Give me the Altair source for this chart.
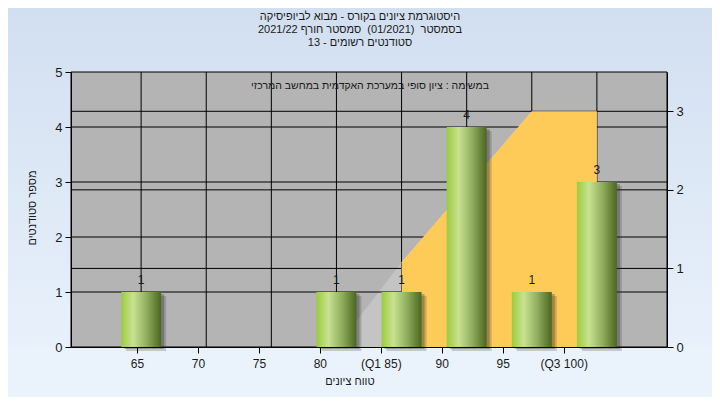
import json
import altair as alt
import pandas as pd

# ---------------- data ----------------
categories = ["65", "70", "75", "80", "(Q1 85)", "90", "95", "(Q3 100)"]
counts = [1, 0, 0, 1, 1, 4, 1, 3]

trend_categories = ["80", "(Q1 85)", "90", "95", "(Q3 100)"]
trend_values = [0.0, 1.08, 2.04, 3.0, 3.0]
quartile_categories = ["(Q1 85)", "90", "95", "(Q3 100)"]
quartile_values = [1.08, 2.04, 3.0, 3.0]

left_ticks = [0, 1, 2, 3, 4, 5]
right_ticks = [0, 1, 2, 3]

NB = "\u00a0"
title_lines = [
    "היסטוגרמת ציונים בקורס - מבוא לביופיסיקה",
    f"בסמסטר {NB}(01/2021){NB} סמסטר חורף 2021/22",
    "סטודנטים רשומים - 13",
]
note_text = "במשימה : ציון סופי במערכת האקדמית במחשב המרכזי"
x_title = "טווח ציונים"
y_title = "מספר סטודנטים"

# ---------------- layout ----------------
W, H = 596, 275
PAD = {"left": 63, "top": 64, "right": 45, "bottom": 50}
FONT = "Liberation Sans"
TXT = "#1a1a1a"
LABEL_STEP = 62 / 66.22  # axis labels are spaced slightly tighter than the bars

pos = {c: i + 1 for i, c in enumerate(categories)}
bars_df = pd.DataFrame({"cat": categories, "pos": [pos[c] for c in categories], "count": counts})
bars_nz = bars_df[bars_df["count"] > 0]
trend_df = pd.DataFrame({"pos": [pos[c] for c in trend_categories], "v": trend_values})
quart_df = pd.DataFrame({"pos": [pos[c] for c in quartile_categories], "v": quartile_values})
lgrid_df = pd.DataFrame({"v": left_ticks[1:-1]})
rgrid_df = pd.DataFrame({"v": right_ticks[1:]})
vgrid_df = pd.DataFrame({"pos": list(pos.values())})
one = pd.DataFrame({"a": [0]})

x_scale = alt.Scale(domain=[0, len(categories) + 1], nice=False, zero=False)
yl_scale = alt.Scale(domain=[left_ticks[0], left_ticks[-1]], nice=False)
yr_scale = alt.Scale(domain=[0, 3.5], nice=False)

tick_vals = [round(LABEL_STEP * (i + 1), 4) for i in range(len(categories))]
label_expr = f"{json.dumps(categories)}[round(datum.value / {LABEL_STEP:.4f}) - 1]"

x_axis = alt.Axis(values=tick_vals, labelExpr=label_expr, grid=False, title=None, orient="bottom",
                  domainColor="black", tickColor="black", tickSize=6, labelPadding=5,
                  labelFlush=False, labelOverlap=False,
                  labelFont=FONT, labelFontSize=12, labelColor=TXT, zindex=1)
yl_axis = alt.Axis(values=left_ticks, orient="left", grid=False, title=None,
                   domainColor="black", tickColor="black", tickSize=6, labelPadding=3,
                   labelFlush=False,
                   labelFont=FONT, labelFontSize=13, labelColor=TXT, zindex=1)
yr_axis = alt.Axis(values=right_ticks, orient="right", grid=False, title=None,
                   domainColor="black", tickColor="black", tickSize=6, labelPadding=3,
                   labelFlush=False,
                   labelFont=FONT, labelFontSize=13, labelColor=TXT, zindex=1)

X = alt.X("pos:Q", scale=x_scale, axis=x_axis)

# page background gradient (upper part; below the plot the plain background continues)
bg = alt.Chart(one).mark_rect(
    color=alt.Gradient(gradient="linear", x1=0, x2=0, y1=0, y2=1,
                       stops=[alt.GradientStop(color="#d2dff0", offset=0),
                              alt.GradientStop(color="#e8f1fb", offset=1)])
).encode(x=alt.value(-PAD["left"]), x2=alt.value(W + PAD["right"]),
         y=alt.value(-PAD["top"]), y2=alt.value(H))

plot_bg = alt.Chart(one).mark_rect(color="#b4b4b4", stroke="black", strokeWidth=1).encode(
    x=alt.value(0), x2=alt.value(W), y=alt.value(0), y2=alt.value(H))

trend = alt.Chart(trend_df).mark_area(color="#c4c4c4").encode(
    x=X, y=alt.Y("v:Q", scale=yr_scale, axis=None))

lgrid = alt.Chart(lgrid_df).mark_rule(color="black", strokeWidth=1).encode(
    y=alt.Y("v:Q", scale=yl_scale, axis=None), x=alt.value(0), x2=alt.value(W))
rgrid = alt.Chart(rgrid_df).mark_rule(color="black", strokeWidth=1).encode(
    y=alt.Y("v:Q", scale=yr_scale, axis=None), x=alt.value(0), x2=alt.value(W))
vgrid = alt.Chart(vgrid_df).mark_rule(color="black", strokeWidth=1).encode(
    x=X, y=alt.value(0), y2=alt.value(H))

quart = alt.Chart(quart_df).mark_area(color="#fecb58").encode(
    x=X, y=alt.Y("v:Q", scale=yr_scale, axis=yr_axis))

shadow1 = alt.Chart(bars_nz).mark_bar(size=40, color="#303030", opacity=0.22, xOffset=5, yOffset=4).encode(
    x=X, y=alt.Y("count:Q", scale=yl_scale, axis=None))
shadow2 = alt.Chart(bars_nz).mark_bar(size=40, color="#303030", opacity=0.3, xOffset=3, yOffset=2).encode(
    x=X, y=alt.Y("count:Q", scale=yl_scale, axis=None))

bars = alt.Chart(bars_nz).mark_bar(
    size=40,
    color=alt.Gradient(gradient="linear", x1=0, x2=1, y1=0, y2=0,
                       stops=[alt.GradientStop(color="#9ccb3e", offset=0),
                              alt.GradientStop(color="#c8e292", offset=0.3),
                              alt.GradientStop(color="#8fab5c", offset=0.65),
                              alt.GradientStop(color="#4b6620", offset=1)])
).encode(x=X, y=alt.Y("count:Q", scale=yl_scale, axis=yl_axis))

bar_labels = alt.Chart(bars_nz).mark_text(font=FONT, fontSize=12, color=TXT, dy=-12, baseline="middle").encode(
    x=X, y=alt.Y("count:Q", scale=yl_scale, axis=None), text="count:Q")

def txt(s, x, y, angle=0, size=11):
    kw = dict(text=s, font=FONT, fontSize=size, color=TXT, align="center", baseline="middle")
    if angle:
        kw["angle"] = angle
    return alt.Chart(one).mark_text(**kw).encode(x=alt.value(x), y=alt.value(y))

titles = [txt(t, 289, -55 + 13 * i) for i, t in enumerate(title_lines)]
note = txt(note_text, 299, 14, size=10.5)
xt = txt(x_title, 279, 310)
yt = txt(y_title, -38, 136, angle=270)

chart = alt.layer(
    bg, plot_bg, trend, lgrid, rgrid, vgrid, quart, shadow1, shadow2, bars, bar_labels,
    *titles, note, xt, yt
).resolve_scale(y="independent").properties(
    width=W, height=H,
    autosize=alt.AutoSizeParams(type="none"),
    padding=PAD,
    background="#eaf3fc",
).configure_view(stroke=None).configure_axis(zindex=1)

chart.save("out.html", embed_options={"renderer": "svg", "actions": False})
